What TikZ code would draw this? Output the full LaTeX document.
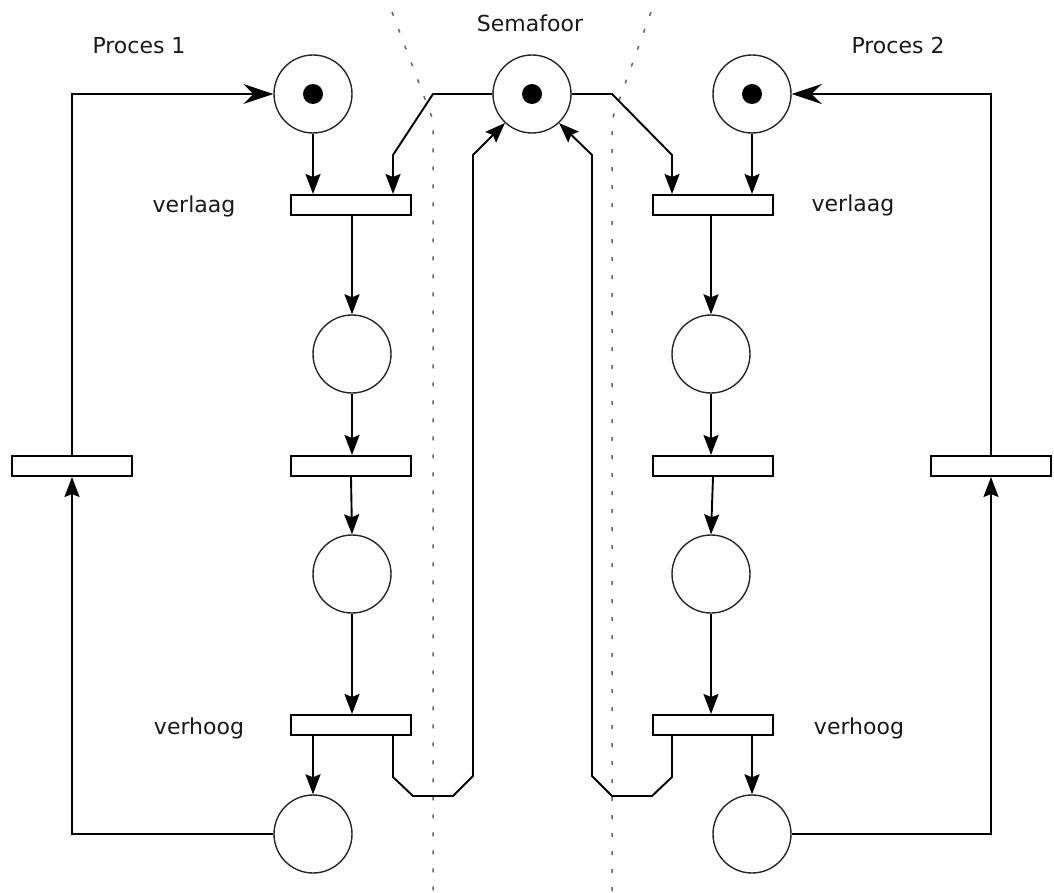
\documentclass[tikz,border=0pt]{standalone}
\usepackage{fontspec}
\setmainfont{DejaVu Sans}
\usetikzlibrary{arrows.meta}
\begin{document}
\begin{tikzpicture}[x=1pt,y=-1pt,
  place/.style={circle,draw=black!85,line width=1.4pt,minimum size=78pt,inner sep=0pt},
  trans/.style={rectangle,draw,line width=2pt,minimum width=120pt,minimum height=20pt,inner sep=0pt,fill=white},
  token/.style={circle,fill=black,minimum size=20pt,inner sep=0pt},
  arc/.style={line width=1.9pt,-{Stealth[length=20pt,width=15pt,inset=3pt]}},
  backarc/.style={line width=1.9pt,-{Stealth[length=30pt,width=20pt,inset=10pt]}},
  sep/.style={draw=black!60,line width=1.5pt,dash pattern=on 4pt off 14pt},
  lbl/.style={font=\fontsize{22}{26}\selectfont,anchor=base,text=black!90,inner sep=0pt}]
\useasboundingbox (0,0) rectangle (1054,893);

% critical-section boundaries
\draw[sep] (392,12) -- (433,120) -- (433,893);
\draw[sep] (651,12) -- (612,120) -- (612,893);

% places
\node[place] (p1)  at (313,94)  {};
\node[place] (sem) at (532,94)  {};
\node[place] (q1)  at (752,94)  {};
\node[place] (p2)  at (352,354) {};
\node[place] (p3)  at (352,574) {};
\node[place] (q2)  at (711,354) {};
\node[place] (q3)  at (711,574) {};
\node[place] (p4)  at (313,834) {};
\node[place] (q4)  at (752,834) {};

% tokens
\node[token] (tk1) at (p1)  {};
\node[token] (tks) at (sem) {};
\node[token] (tk2) at (q1)  {};

% transitions
\node[trans] (t1l) at (351,205) {};
\node[trans] (t2l) at (351,466) {};
\node[trans] (t3l) at (351,725) {};
\node[trans] (t1r) at (713,205) {};
\node[trans] (t2r) at (713,466) {};
\node[trans] (t3r) at (713,725) {};
\node[trans] (tol) at (72,466)  {};
\node[trans] (tor) at (991,466) {};

% labels
\node[lbl] (l1) at (139,54)  {Proces 1};
\node[lbl] (l2) at (530,32)  {Semafoor};
\node[lbl] (l3) at (898,54)  {Proces 2};
\node[lbl] (l4) at (194,213) {verlaag};
\node[lbl] (l5) at (853,212) {verlaag};
\node[lbl] (l6) at (199,734) {verhoog};
\node[lbl] (l7) at (859,734) {verhoog};

% process 1
\draw[arc] (p1.south) -- (p1.south |- t1l.north);
\draw[arc] (sem.west) -- (433,94) -- (393,155) -- (393,155 |- t1l.north);
\draw[arc] (t1l.south -| p2) -- (p2.north);
\draw[arc] (p2.south) -- (p2.south |- t2l.north);
\draw[arc] (t2l.south) -- (p3.north);
\draw[arc] (p3.south) -- (p3.south |- t3l.north);
\draw[arc] (t3l.south -| p4) -- (p4.north);
\draw[arc] (t3l.south -| 393,0) -- (393,777) -- (413,796) -- (453,796) -- (473,776) -- (473,155) -- (sem.227);
\draw[arc] (p4.west) -| (tol.south);
\draw[backarc] (tol.north) |- (p1.west);

% process 2
\draw[arc] (q1.south) -- (q1.south |- t1r.north);
\draw[arc] (sem.east) -- (612,94) -- (672,155) -- (672,155 |- t1r.north);
\draw[arc] (t1r.south -| q2) -- (q2.north);
\draw[arc] (q2.south) -- (q2.south |- t2r.north);
\draw[arc] (t2r.south) -- (q3.north);
\draw[arc] (q3.south) -- (q3.south |- t3r.north);
\draw[arc] (t3r.south -| q4) -- (q4.north);
\draw[arc] (t3r.south -| 672,0) -- (672,777) -- (652,796) -- (612,796) -- (592,776) -- (592,155) -- (sem.313);
\draw[arc] (q4.east) -| (tor.south);
\draw[backarc] (tor.north) |- (q1.east);
\end{tikzpicture}
\end{document}
